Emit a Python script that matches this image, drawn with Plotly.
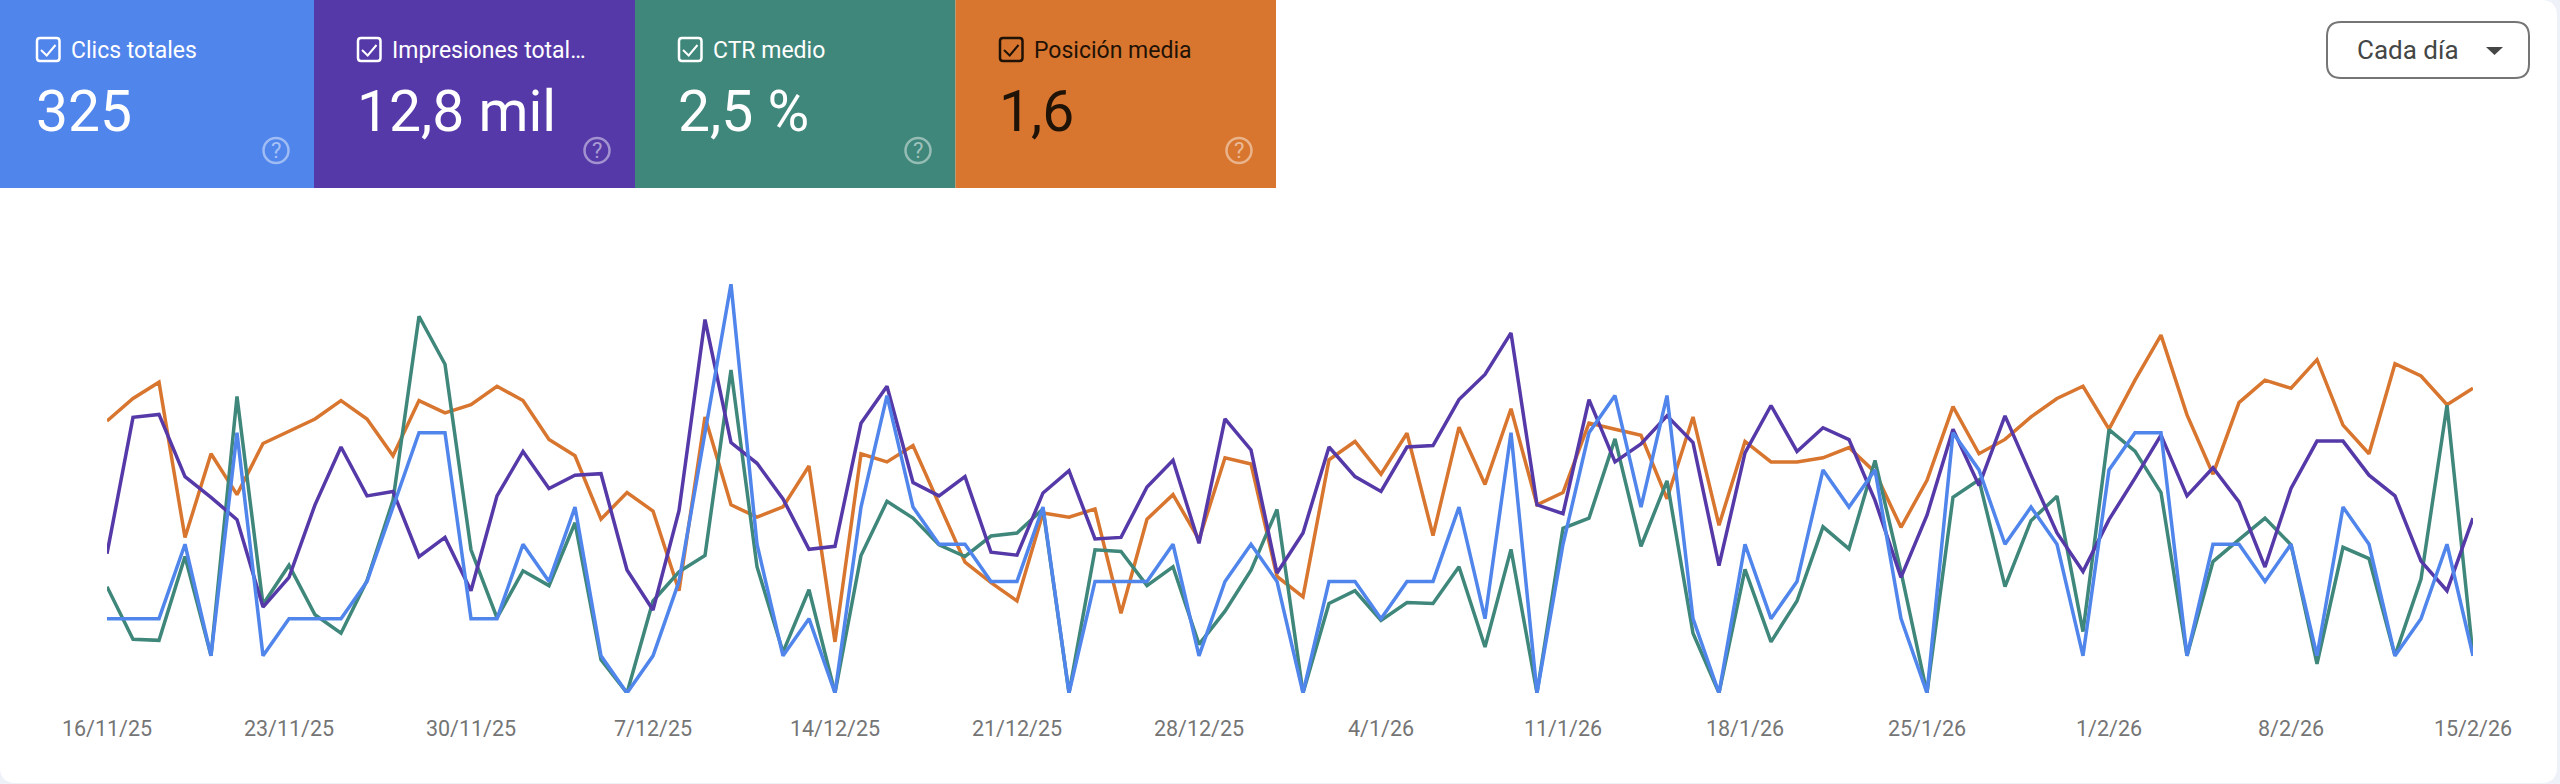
import pandas as pd
import plotly.graph_objects as go

W = 2560
H = 784

# daily dates, one point per day
dates = pd.date_range("2025-11-16", "2026-02-15", freq="D")

clicks = [2, 2, 2, 4, 1, 7, 1, 2, 2, 2, 3, 5, 7, 7, 2, 2, 4, 3, 5, 1, 0, 1, 3, 7, 11, 4, 1, 2, 0, 5,
          8, 5, 4, 4, 3, 3, 5, 0, 3, 3, 3, 4, 1, 3, 4, 3, 0, 3, 3, 2, 3, 3, 5, 2, 7, 0, 4, 7, 8, 5,
          8, 2, 0, 4, 2, 3, 6, 5, 6, 2, 0, 7, 6, 4, 5, 4, 1, 6, 7, 7, 1, 4, 4, 3, 4, 1, 5, 4, 1, 2, 4, 1]

impressions = [94, 186, 188, 146, 132, 117, 58, 78, 127, 166, 133, 136, 92, 105, 69, 133, 163, 138, 147, 148,
               83, 56, 123, 252, 169, 155, 131, 97, 99, 182, 207, 142, 133, 146, 95, 93, 135, 150, 104, 105,
               139, 157, 101, 185, 164, 81, 108, 166, 146, 136, 166, 167, 198, 215, 243, 127, 121, 198, 156, 168,
               187, 169, 86, 162, 194, 163, 179, 171, 130, 78, 120, 178, 140, 187, 147, 108, 82, 117, 145, 174,
               133, 152, 129, 85, 138, 170, 170, 147, 133, 89, 69, 118]

ctr = [2.08, 1.05, 1.03, 2.67, 0.73, 5.80, 1.73, 2.50, 1.53, 1.17, 2.20, 3.77, 7.37, 6.43, 2.80, 1.47, 2.39, 2.10, 3.33, 0.65,
       0, 1.80, 2.37, 2.69, 6.32, 2.47, 0.80, 2.02, 0, 2.69, 3.75, 3.42, 2.90, 2.67, 3.07, 3.13, 3.60, 0, 2.80, 2.77,
       2.10, 2.47, 0.95, 1.60, 2.40, 3.59, 0, 1.75, 2.00, 1.42, 1.77, 1.75, 2.47, 0.90, 2.81, 0, 3.22, 3.42, 4.97, 2.87,
       4.15, 1.17, 0, 2.42, 1.00, 1.80, 3.25, 2.82, 4.55, 2.37, 0, 3.83, 4.17, 2.08, 3.37, 3.85, 1.20, 5.15, 4.73, 3.92,
       0.73, 2.57, 3.00, 3.42, 2.90, 0.57, 2.85, 2.63, 0.73, 2.23, 5.63, 0.73]

position = [1.42, 1.31, 1.23, 1.99, 1.58, 1.78, 1.53, 1.47, 1.41, 1.32, 1.41, 1.59, 1.32, 1.38, 1.34, 1.25, 1.32, 1.51, 1.59, 1.90,
            1.77, 1.86, 2.25, 1.40, 1.83, 1.89, 1.84, 1.64, 2.50, 1.58, 1.62, 1.54, 1.83, 2.11, 2.21, 2.30, 1.87, 1.89, 1.85, 2.36,
            1.90, 1.78, 2.00, 1.60, 1.63, 2.18, 2.28, 1.61, 1.52, 1.68, 1.48, 1.98, 1.45, 1.73, 1.36, 1.83, 1.77, 1.43, 1.46, 1.49,
            1.80, 1.40, 1.93, 1.52, 1.62, 1.62, 1.60, 1.55, 1.67, 1.94, 1.71, 1.35, 1.58, 1.51, 1.40, 1.31, 1.25, 1.46, 1.22, 1.00,
            1.39, 1.68, 1.33, 1.22, 1.26, 1.12, 1.44, 1.58, 1.14, 1.20, 1.34, 1.26]

tick_dates = ["2025-11-16", "2025-11-23", "2025-11-30", "2025-12-07", "2025-12-14", "2025-12-21", "2025-12-28",
              "2026-01-04", "2026-01-11", "2026-01-18", "2026-01-25", "2026-02-01", "2026-02-08", "2026-02-15"]
tick_labels = ["16/11/25", "23/11/25", "30/11/25", "7/12/25", "14/12/25", "21/12/25", "28/12/25",
               "4/1/26", "11/1/26", "18/1/26", "25/1/26", "1/2/26", "8/2/26", "15/2/26"]

card_labels = ["Clics totales", "Impresiones total…", "CTR medio", "Posición media"]
card_values = ["325", "12,8 mil", "2,5 %", "1,6"]
card_colors = ["#5085EC", "#5639A8", "#3F877A", "#D8762F"]
card_text = ["#FFFFFF", "#FFFFFF", "#FFFFFF", "#1F1206"]

FONT = "Roboto"
LINE = 3.5


def px(x):
    return x / W


def py(y):
    return 1 - y / H


def rounded(x0, y0, x1, y1, r):
    # rounded box as an svg path in paper coordinates
    return (f"M {px(x0 + r)} {py(y0)} L {px(x1 - r)} {py(y0)} Q {px(x1)} {py(y0)} {px(x1)} {py(y0 + r)} "
            f"L {px(x1)} {py(y1 - r)} Q {px(x1)} {py(y1)} {px(x1 - r)} {py(y1)} "
            f"L {px(x0 + r)} {py(y1)} Q {px(x0)} {py(y1)} {px(x0)} {py(y1 - r)} "
            f"L {px(x0)} {py(y0 + r)} Q {px(x0)} {py(y0)} {px(x0 + r)} {py(y0)} Z")


fig = go.Figure()

# overlaid axes paint in axis order, so orange goes on y (bottom) and blue on y4 (top)
fig.add_trace(go.Scatter(x=dates, y=position, yaxis="y", mode="lines", line=dict(color=card_colors[3], width=LINE), name="Posición media"))
fig.add_trace(go.Scatter(x=dates, y=ctr, yaxis="y2", mode="lines", line=dict(color=card_colors[2], width=LINE), name="CTR medio"))
fig.add_trace(go.Scatter(x=dates, y=impressions, yaxis="y3", mode="lines", line=dict(color=card_colors[1], width=LINE), name="Impresiones totales"))
fig.add_trace(go.Scatter(x=dates, y=clicks, yaxis="y4", mode="lines", line=dict(color=card_colors[0], width=LINE), name="Clics totales"))

shapes = []
annotations = []

# white card on the page background
shapes.append(dict(type="path", xref="paper", yref="paper", path=rounded(0, 0, 2557, 783, 16), fillcolor="white", line=dict(width=0), layer="below"))

card_left = [0, 314, 635, 955.5]
card_right = [314, 635, 955.5, 1276]
for i in range(4):
    left = card_left[i]
    offset = 321 * i
    col = card_text[i]
    shapes.append(dict(type="rect", xref="paper", yref="paper", x0=px(left), x1=px(card_right[i]), y0=py(188), y1=py(0),
                       fillcolor=card_colors[i], line=dict(width=0), layer="below"))
    # checkbox
    shapes.append(dict(type="path", xref="paper", yref="paper", path=rounded(37 + offset, 38, 59.5 + offset, 61, 3),
                       line=dict(color=col, width=2.5)))
    shapes.append(dict(type="path", xref="paper", yref="paper",
                       path=f"M {px(41 + offset)} {py(50)} L {px(46.7 + offset)} {py(55.5)} L {px(55.5 + offset)} {py(45)}",
                       line=dict(color=col, width=2)))
    annotations.append(dict(text=card_labels[i], xref="paper", yref="paper", x=px(69 + offset), y=py(50), xanchor="left", yanchor="middle",
                            showarrow=False, font=dict(family=FONT, size=23, color=col)))
    annotations.append(dict(text=card_values[i], xref="paper", yref="paper", x=px(34 + offset), y=py(111), xanchor="left", yanchor="middle",
                            showarrow=False, font=dict(family=FONT, size=57, color=col)))
    # help icon
    shapes.append(dict(type="circle", xref="paper", yref="paper", x0=px(263.5 + offset), x1=px(288.5 + offset), y0=py(163), y1=py(138),
                       line=dict(color="rgba(255,255,255,0.45)", width=2.5)))
    annotations.append(dict(text="?", xref="paper", yref="paper", x=px(276 + offset), y=py(150.5), xanchor="center", yanchor="middle",
                            showarrow=False, font=dict(family=FONT, size=22, color="rgba(255,255,255,0.5)")))

# period button
shapes.append(dict(type="path", xref="paper", yref="paper", path=rounded(2327, 22, 2529, 78, 14), line=dict(color="#757575", width=2)))
shapes.append(dict(type="path", xref="paper", yref="paper",
                   path=f"M {px(2486)} {py(47)} L {px(2503)} {py(47)} L {px(2494.5)} {py(55)} Z",
                   fillcolor="#444746", line=dict(width=0)))
annotations.append(dict(text="Cada día", xref="paper", yref="paper", x=px(2408), y=py(50), xanchor="center", yanchor="middle",
                        showarrow=False, font=dict(family=FONT, size=26, color="#444746")))

ydomain = [py(693), py(284)]
hidden = dict(visible=False, domain=ydomain, fixedrange=True, showgrid=False, zeroline=False, automargin=False)

fig.update_layout(
    width=W,
    height=H,
    margin=dict(l=0, r=0, t=0, b=0, pad=0),
    paper_bgcolor="#EEF2F8",
    plot_bgcolor="rgba(0,0,0,0)",
    showlegend=False,
    shapes=shapes,
    annotations=annotations,
    xaxis=dict(domain=[px(107), px(2473)], range=[dates[0], dates[-1]], tickmode="array", tickvals=tick_dates, ticktext=tick_labels,
               showgrid=False, zeroline=False, showline=False, ticks="outside", ticklen=16, tickcolor="rgba(0,0,0,0)",
               automargin=False, tickangle=0, tickfont=dict(family=FONT, size=21.5, color="#757575")),
    yaxis=dict(range=[2.75, 0.75], **hidden),
    yaxis2=dict(range=[0, 8], overlaying="y", **hidden),
    yaxis3=dict(range=[0, 276], overlaying="y", **hidden),
    yaxis4=dict(range=[0, 11], overlaying="y", **hidden),
)

fig.write_html("out.html", config=dict(displayModeBar=False), post_script="document.body.style.margin='0';")
